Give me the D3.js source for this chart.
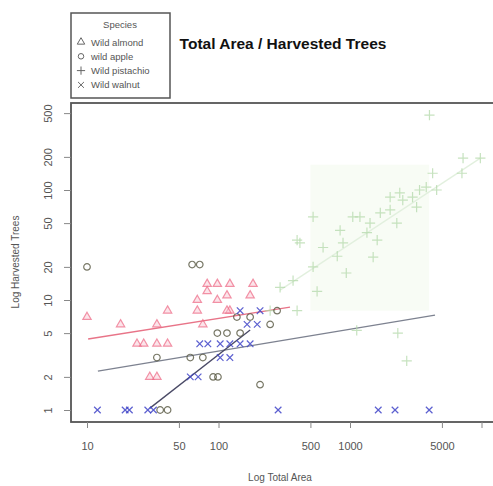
<!DOCTYPE html>
<html>
<head>
<meta charset="utf-8">
<script src="https://cdn.jsdelivr.net/npm/d3@7"></script>
<style>
  html, body { margin: 0; padding: 0; background: #fff; }
  svg { display: block; font-family: "Liberation Sans", Arial, sans-serif; }
</style>
</head>
<body>
<svg id="chart" width="493" height="486"></svg>
<script>
// Species and their field records: total area vs. number of harvested trees
const species = ["Wild almond", "wild apple", "Wild pistachio", "Wild walnut"];

const almondArea  = [10, 18, 34, 41, 69, 76, 69, 98, 82, 98, 122, 183, 24, 27, 34, 41, 30, 34, 82, 116, 174, 122, 116];
const almondTrees = [7, 6, 6, 8, 8, 6, 10, 10, 14, 14, 14, 14, 4, 4, 4, 4, 2, 2, 12, 11, 11, 8, 8];

const appleArea  = [10, 63, 72, 34, 61, 76, 91, 99, 207, 36, 41, 98, 116, 146, 138, 174, 247, 279];
const appleTrees = [20, 21, 21, 3, 3, 3, 2, 2, 1.7, 1, 1, 5, 5, 5, 7, 7, 6, 8];

const pistachioArea  = [247, 396, 294, 369, 524, 624, 800, 885, 841, 1050, 1190, 1345, 1610, 1420, 1700, 2020, 2270, 2020, 2390, 2520, 2990, 3210, 3380, 3800, 4250, 4560, 7100, 7240, 9800, 4020, 396, 524, 937, 1500, 562, 416, 2310, 2700, 1125];
const pistachioTrees = [8, 8, 13, 15, 20, 30, 25, 33, 43, 57, 57, 41, 35, 50, 62, 66, 50, 86, 94, 81, 86, 70, 100, 106, 142, 100, 142, 195, 195, 480, 35, 57, 17.6, 24.5, 12, 33, 5, 2.8, 5.3];

const walnutArea  = [12, 19.5, 21, 29, 32, 61, 70, 103, 122, 72, 83, 103, 122, 146, 174, 165, 197, 146, 207, 284, 1640, 2200, 4000];
const walnutTrees = [1, 1, 1, 1, 1, 2, 2, 3, 3, 4, 4, 4, 4, 4, 4, 6, 6, 8, 8, 1, 1, 1, 1];

// Fitted log-log trend for each species: [area start, area end], [trees start, trees end]
const fitArea  = [[10.2, 350], [12.1, 4430], [294, 9800], [30.1, 174]];
const fitTrees = [[4.42, 8.6], [2.26, 7.3], [12.3, 195], [1.04, 5.34]];

const xTicks = [10, 50, 100, 500, 1000, 5000, 10000];
const xTickLabels = ["10", "50", "100", "500", "1000", "5000", ""];
const yTicks = [1, 2, 5, 10, 20, 50, 100, 200, 500];

const symbols = [d3.symbolTriangle, d3.symbolCircle, d3.symbolPlus, d3.symbolTimes];
const strokeCol = ["#ee6c88", "#55553f", "#b3d8aa", "#4044c8"];
const fillCol   = ["#f9c4d0", "none", "none", "none"];
const lineCol   = ["#e87488", "#7d8290", "#e2f0de", "#4a4a66"];
const pointOpacity = [0.75, 0.8, 0.75, 0.85];

const svg = d3.select("#chart");

const x = d3.scaleLog().domain([10, 1000]).range([87, 350]);
const y = d3.scaleLog().domain([1, 100]).range([410, 190]);

const plot = { left: 71, top: 103, right: 497, bottom: 422 };

svg.append("defs").append("clipPath").attr("id", "clip")
  .append("rect")
  .attr("x", plot.left).attr("y", plot.top)
  .attr("width", plot.right - plot.left).attr("height", plot.bottom - plot.top);

// faint highlight band behind the large pistachio stands
svg.append("rect")
  .attr("x", x(500)).attr("y", y(170))
  .attr("width", x(4000) - x(500)).attr("height", y(8) - y(170))
  .attr("fill", "#f8fcf5");

const g = svg.append("g").attr("clip-path", "url(#clip)");

// trend lines
species.forEach((s, i) => {
  g.append("line")
    .attr("x1", x(fitArea[i][0])).attr("y1", y(fitTrees[i][0]))
    .attr("x2", x(fitArea[i][1])).attr("y2", y(fitTrees[i][1]))
    .attr("stroke", lineCol[i]).attr("stroke-width", 1.3);
});

// points
const groups = [
  [almondArea, almondTrees],
  [appleArea, appleTrees],
  [pistachioArea, pistachioTrees],
  [walnutArea, walnutTrees]
];
const sizes = [30, 34, 36, 30];
const drawOrder = [2, 0, 1, 3];
drawOrder.forEach(i => {
  const [ax, ty] = groups[i];
  const sym = d3.symbol().type(symbols[i]).size(sizes[i]);
  g.append("g").selectAll("path")
    .data(ax.map((a, k) => [a, ty[k]]))
    .join("path")
    .attr("transform", d => `translate(${x(d[0])},${y(d[1])})`)
    .attr("d", sym)
    .attr("fill", fillCol[i])
    .attr("fill-opacity", 0.6)
    .attr("stroke", strokeCol[i])
    .attr("stroke-width", 1.2)
    .attr("opacity", pointOpacity[i]);
});

// plot frame
svg.append("rect")
  .attr("x", plot.left).attr("y", plot.top)
  .attr("width", plot.right - plot.left).attr("height", plot.bottom - plot.top)
  .attr("fill", "none").attr("stroke", "#555").attr("stroke-width", 1.8);

// x axis
const xAxis = svg.append("g")
  .attr("transform", `translate(0,${plot.bottom})`)
  .call(d3.axisBottom(x).tickValues(xTicks).tickSize(6).tickPadding(14)
        .tickFormat((d, k) => xTickLabels[k]));
xAxis.select(".domain").remove();
xAxis.selectAll("line").attr("stroke", "#888");
xAxis.selectAll("text").attr("fill", "#555").attr("font-size", 11)
  .attr("font-family", "Liberation Sans, Arial, sans-serif");

// y axis (labels parallel to the axis)
const yAxis = svg.append("g")
  .attr("transform", `translate(${plot.left},0)`)
  .call(d3.axisLeft(y).tickValues(yTicks).tickSize(7).tickFormat(d3.format("d")));
yAxis.select(".domain").remove();
yAxis.selectAll("line").attr("stroke", "#888");
yAxis.selectAll("text")
  .attr("fill", "#555").attr("font-size", 11)
  .attr("font-family", "Liberation Sans, Arial, sans-serif")
  .attr("text-anchor", "middle")
  .attr("x", null).attr("dy", null)
  .attr("transform", "translate(-22,0) rotate(-90)")
  .attr("dominant-baseline", "middle");

// axis titles
svg.append("text")
  .attr("x", 280).attr("y", 481)
  .attr("text-anchor", "middle").attr("font-size", 10).attr("fill", "#555")
  .text("Log Total Area");
svg.append("text")
  .attr("transform", "translate(19,262) rotate(-90)")
  .attr("text-anchor", "middle").attr("font-size", 10).attr("fill", "#555")
  .text("Log Harvested Trees");

// title
svg.append("text")
  .attr("x", 283).attr("y", 49)
  .attr("text-anchor", "middle").attr("font-size", 15.5).attr("font-weight", "bold")
  .attr("fill", "#111")
  .text("Total Area / Harvested Trees");

// legend
const lg = svg.append("g");
lg.append("rect")
  .attr("x", 71).attr("y", 13).attr("width", 99).attr("height", 85)
  .attr("fill", "#fff").attr("stroke", "#555").attr("stroke-width", 1.5);
lg.append("text")
  .attr("x", 120).attr("y", 28).attr("text-anchor", "middle")
  .attr("font-size", 9.5).attr("fill", "#555").text("Species");
species.forEach((s, i) => {
  const yy = 42 + i * 14.3;
  lg.append("path")
    .attr("transform", `translate(81,${yy})`)
    .attr("d", d3.symbol().type(symbols[i]).size(24))
    .attr("fill", "none").attr("stroke", "#666").attr("stroke-width", 1);
  lg.append("text")
    .attr("x", 91).attr("y", yy + 3.5)
    .attr("font-size", 9.5).attr("fill", "#555").text(s);
});
</script>
</body>
</html>
